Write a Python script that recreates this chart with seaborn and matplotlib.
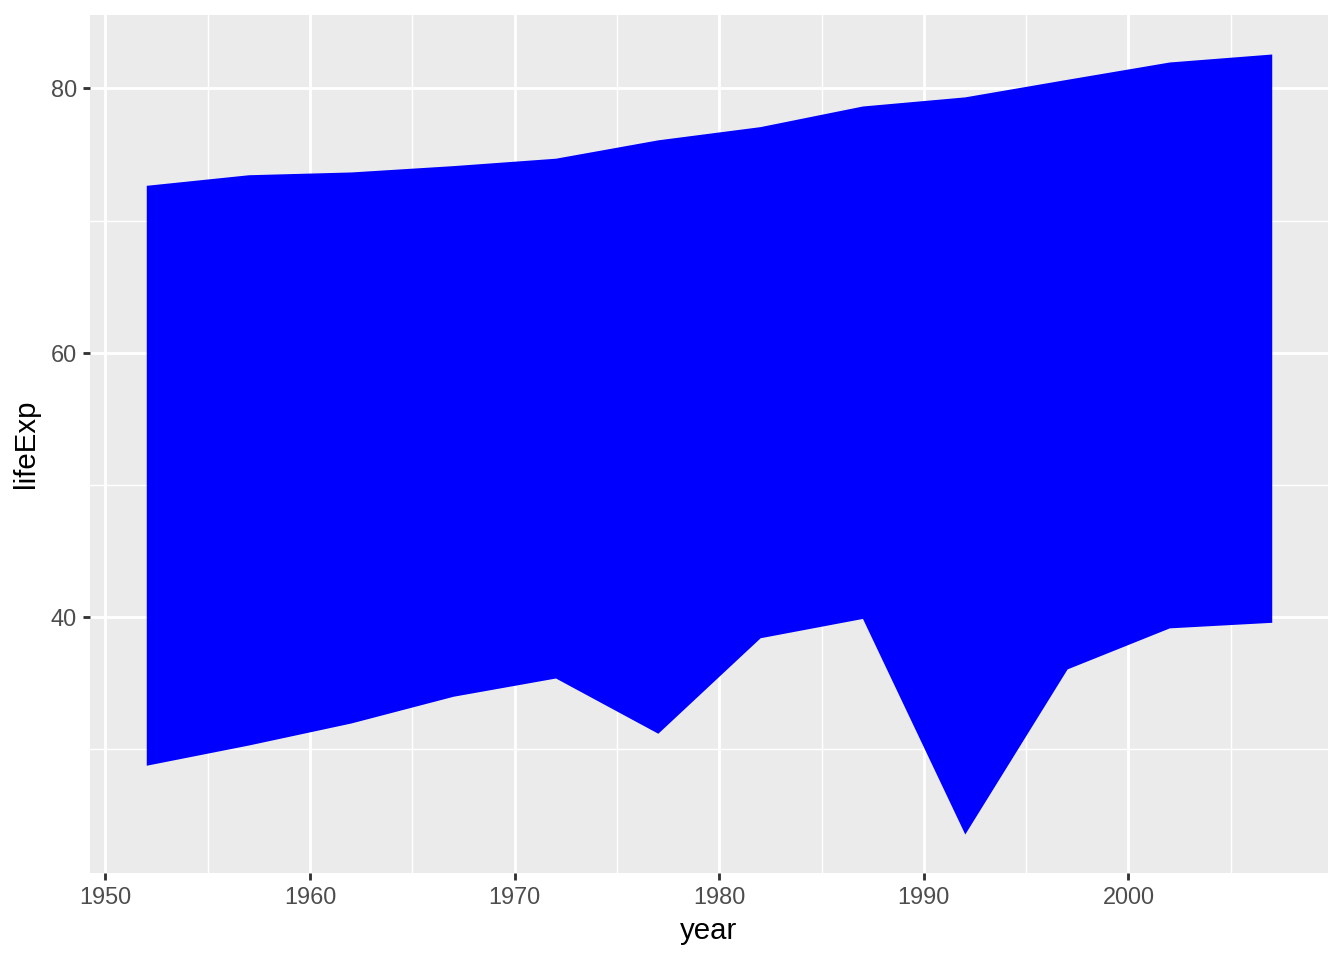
import matplotlib
matplotlib.use("Agg")
import matplotlib.pyplot as plt
from matplotlib.ticker import MultipleLocator
import seaborn as sns
import pandas as pd

# gapminder: min and max life expectancy per year
years = [1952, 1957, 1962, 1967, 1972, 1977, 1982, 1987, 1992, 1997, 2002, 2007]
life_min = [28.801, 30.332, 31.997, 34.020, 35.400, 31.220, 38.445, 39.906,
            23.599, 36.087, 39.193, 39.613]
life_max = [72.670, 73.470, 73.680, 74.160, 74.720, 76.110, 77.110, 78.670,
            79.360, 80.690, 82.000, 82.603]

df = pd.DataFrame({"year": years, "ymin": life_min, "ymax": life_max})

sns.set_theme(style="darkgrid", rc={
    "axes.facecolor": "#EBEBEB",
    "grid.color": "white",
    "axes.edgecolor": "#EBEBEB",
})
plt.rcParams["font.family"] = ["Liberation Sans", "DejaVu Sans"]

fig = plt.figure(figsize=(7, 5), dpi=192)
ax = fig.add_axes([90 / 1344, 1 - 873 / 960, (1328 - 90) / 1344, (873 - 15) / 960])

ax.fill_between(df["year"], df["ymin"], df["ymax"], color="#0000FF", linewidth=0)

# ggplot-like expansion of 5%
xr = df["year"].max() - df["year"].min()
ax.set_xlim(df["year"].min() - 0.05 * xr, df["year"].max() + 0.05 * xr)
lo, hi = df["ymin"].min(), df["ymax"].max()
ax.set_ylim(lo - 0.05 * (hi - lo), hi + 0.05 * (hi - lo))

ax.xaxis.set_major_locator(MultipleLocator(10))
ax.xaxis.set_minor_locator(MultipleLocator(5))
ax.yaxis.set_major_locator(MultipleLocator(20))
ax.yaxis.set_minor_locator(MultipleLocator(10))
ax.set_axisbelow(True)
ax.grid(which="major", color="white", linewidth=1.07)
ax.grid(which="minor", color="white", linewidth=0.53)
for s in ax.spines.values():
    s.set_visible(False)

ax.tick_params(axis="both", which="major", length=2.75, width=1.07, color="#333333",
               labelcolor="#4D4D4D", labelsize=8.8, pad=2.2, bottom=True, left=True)
ax.tick_params(axis="both", which="minor", length=0)

ax.set_xlabel("year", fontsize=11, color="black", labelpad=3)
ax.set_ylabel("lifeExp", fontsize=11, color="black", labelpad=4)

fig.savefig("out.png", dpi=192)
